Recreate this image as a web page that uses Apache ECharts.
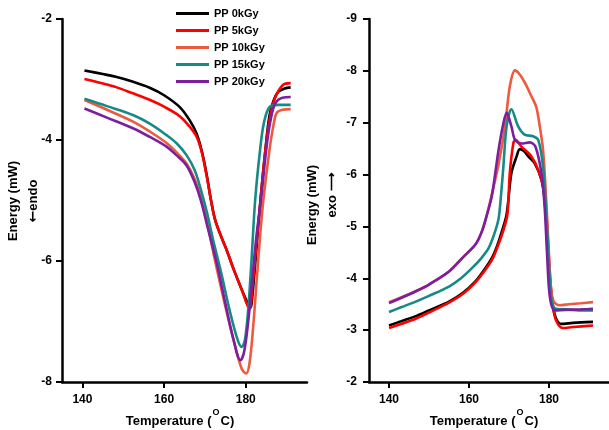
<!DOCTYPE html>
<html><head><meta charset="utf-8">
<script src="https://cdn.jsdelivr.net/npm/echarts@6/dist/echarts.min.js"></script>
<style>html,body{margin:0;padding:0;background:#fff}#c{width:609px;height:430px}</style>
</head><body><div id="c"></div>
<script>
// ---------- DATA ----------
const seriesNames = ['PP 0kGy','PP 5kGy','PP 10kGy','PP 15kGy','PP 20kGy'];
const xTicks = [140, 160, 180];

// Left panel (melting, endo)
const endoT_0 = [140.5,145,148.4,152,156.6,160,163.9,166.5,168,169.3,170.5,171.5,172.5,174,175.5,177,179,180.5,181.2,181.6,182.5,183.6,184.8,185.8,186.8,188,189.5,191];
const endoE_0 = [-2.85,-2.91,-2.96,-3.03,-3.14,-3.26,-3.46,-3.7,-3.9,-4.2,-4.6,-5.0,-5.32,-5.6,-5.85,-6.13,-6.47,-6.7,-6.77,-6.59,-5.9,-5.0,-4.17,-3.6,-3.35,-3.2,-3.15,-3.13];
const endoT_5 = [140.5,144,148.4,152,156.6,160,163.9,166.5,168,169.3,170.5,171.5,172.5,174,175.5,177,179,180.9,181.6,182.5,183.6,184.8,186,187.2,189.1,191];
const endoE_5 = [-2.99,-3.05,-3.13,-3.22,-3.34,-3.45,-3.61,-3.8,-3.95,-4.22,-4.62,-5.0,-5.32,-5.6,-5.85,-6.13,-6.47,-6.79,-6.45,-5.8,-5.0,-4.17,-3.6,-3.3,-3.09,-3.06];
const endoT_10 = [140.5,146,152.5,156.5,160.6,163,165.5,167.5,169,170.5,172.5,175,177,179,180.1,180.9,181.8,182.7,183.5,184.3,185.8,186.8,187.6,189,191];
const endoE_10 = [-3.34,-3.5,-3.7,-3.86,-4.05,-4.2,-4.39,-4.65,-4.95,-5.35,-6.0,-6.75,-7.3,-7.78,-7.86,-7.7,-7.1,-6.3,-5.6,-5.0,-4.17,-3.75,-3.55,-3.5,-3.49];
const endoT_15 = [140.5,146,152.5,156.5,160.6,163,165.5,167.5,169,170.5,172,174,176,178,179,179.8,180.6,181.4,182.3,183.5,184.5,185.9,188,191];
const endoE_15 = [-3.32,-3.44,-3.59,-3.73,-3.92,-4.05,-4.25,-4.5,-4.82,-5.2,-5.65,-6.2,-6.8,-7.3,-7.42,-7.3,-6.8,-6.0,-5.0,-4.17,-3.7,-3.45,-3.42,-3.42];
const endoT_20 = [140.5,146,152.5,156.5,160.6,163,165.5,167.5,169,170.5,173,175,177,178.7,179.6,180.6,181.6,182.6,183.7,185,186,187.2,189,191];
const endoE_20 = [-3.48,-3.63,-3.81,-3.95,-4.11,-4.25,-4.42,-4.7,-5.0,-5.4,-6.07,-6.7,-7.3,-7.64,-7.5,-7.0,-6.3,-5.6,-5.0,-4.17,-3.7,-3.4,-3.3,-3.29];

// Right panel (crystallization, exo)
const exoT_0 = [140,143,146.7,150,155,158.5,161.6,163.5,165.7,167,168.2,169.4,170.6,171.9,172.7,173.8,174.8,176.4,178.1,178.9,179.6,180.3,181,181.8,183,186,191];
const exoE_0 = [-3.09,-3.17,-3.27,-3.38,-3.55,-3.72,-3.94,-4.13,-4.39,-4.62,-4.9,-5.23,-6.03,-6.35,-6.49,-6.45,-6.35,-6.22,-5.9,-5.52,-4.7,-3.9,-3.45,-3.22,-3.12,-3.14,-3.16];
const exoT_5 = [140,143,146.7,150,155,158.5,161.6,163.5,165.7,167,168.4,169.6,170.2,171.1,171.6,173.1,175.6,177.3,178.9,179.6,180.3,181,181.8,183.4,186,191];
const exoE_5 = [-3.04,-3.12,-3.22,-3.34,-3.53,-3.7,-3.92,-4.1,-4.35,-4.58,-4.88,-5.23,-6.03,-6.61,-6.67,-6.54,-6.35,-6.09,-5.64,-4.9,-4.0,-3.45,-3.18,-3.04,-3.06,-3.09];
const exoT_10 = [140,143,146.7,150,155,158.3,161.6,163.2,164.5,165.8,167.3,169,170.2,171.5,172.5,174,175.6,176.8,177.7,178.5,179.3,179.9,180.5,181.2,182.6,185,188,191];
const exoE_10 = [-3.54,-3.63,-3.75,-3.88,-4.13,-4.39,-4.65,-4.9,-5.23,-5.65,-6.16,-6.93,-7.7,-8.01,-7.95,-7.77,-7.51,-7.31,-6.93,-6.48,-5.52,-4.6,-3.8,-3.55,-3.48,-3.5,-3.52,-3.54];
const exoT_15 = [140,143,146.7,150,155,158,160.8,163,164.9,166.3,167.4,168,168.6,169.4,170.6,172.3,173.9,176,177.3,178.5,179.3,179.9,180.6,181.5,184,188,191];
const exoE_15 = [-3.35,-3.44,-3.55,-3.66,-3.84,-4.0,-4.2,-4.38,-4.58,-4.85,-5.15,-5.6,-6.16,-6.93,-7.26,-6.93,-6.77,-6.74,-6.67,-6.16,-5.26,-4.4,-3.6,-3.42,-3.4,-3.38,-3.38];
const exoT_20 = [140,143,146.7,150,155,158.3,161.6,163.2,164.5,165.7,167.4,168.6,169.4,170.6,171.5,173.1,175.2,176.6,178.1,178.9,179.5,180.2,181.4,184,188,191];
const exoE_20 = [-3.52,-3.62,-3.75,-3.88,-4.13,-4.39,-4.65,-4.9,-5.23,-5.58,-6.48,-6.99,-7.19,-6.93,-6.67,-6.6,-6.62,-6.54,-6.03,-5.39,-4.5,-3.65,-3.38,-3.39,-3.4,-3.41];

const colors = ['#000000','#ff0000','#ee5a3e','#158a87','#7b1f9e'];

// ---------- BUILD ----------
const zip = (a, b) => a.map((v, i) => [v, b[i]]);
const endo = [[endoT_0,endoE_0],[endoT_5,endoE_5],[endoT_10,endoE_10],[endoT_15,endoE_15],[endoT_20,endoE_20]];
const exo = [[exoT_0,exoE_0],[exoT_5,exoE_5],[exoT_10,exoE_10],[exoT_15,exoE_15],[exoT_20,exoE_20]];

const FONT = 'Liberation Sans, Arial, sans-serif';
const lbl = {fontFamily: FONT, fontWeight: 'bold', fontSize: 12, color: '#000'};

function xAxisCfg(gi) {
  return {
    type: 'value', gridIndex: gi, min: 135, max: 195,
    axisLine: {show: true, onZero: false, lineStyle: {color: '#000', width: 2.5}},
    axisTick: {show: true, length: 6, lineStyle: {color: '#000', width: 2}, customValues: xTicks},
    axisLabel: Object.assign({margin: 12, customValues: xTicks}, lbl),
    splitLine: {show: false}
  };
}
function yAxisCfg(gi, min, max, interval, inverse, margin) {
  return {
    type: 'value', gridIndex: gi, min: min, max: max, interval: interval, inverse: inverse,
    axisLine: {show: true, onZero: false, lineStyle: {color: '#000', width: 2.5}},
    axisTick: {show: true, length: 6, lineStyle: {color: '#000', width: 2}},
    axisLabel: Object.assign({margin: margin}, lbl),
    splitLine: {show: false}
  };
}

const series = [];
endo.forEach((d, i) => series.push({
  name: seriesNames[i], type: 'line', xAxisIndex: 0, yAxisIndex: 0,
  data: zip(d[0], d[1]), showSymbol: false, smooth: 0.35,
  lineStyle: {color: colors[i], width: 2.6}, itemStyle: {color: colors[i]}
}));
exo.forEach((d, i) => series.push({
  name: seriesNames[i], type: 'line', xAxisIndex: 1, yAxisIndex: 1,
  data: zip(d[0], d[1]), showSymbol: false, smooth: 0.3,
  lineStyle: {color: colors[i], width: 2.6}, itemStyle: {color: colors[i]}
}));

const titleStyle = {fontFamily: FONT, fontWeight: 'bold', fontSize: 13, fill: '#000'};
function tempTitle(cx) {
  return {
    type: 'text', x: cx, y: 418,
    style: {
      text: '{a|Temperature (}{s|O}{a|C)}',
      align: 'center', verticalAlign: 'middle',
      rich: {
        a: {fontFamily: FONT, fontWeight: 'bold', fontSize: 13, fill: '#000', verticalAlign: 'bottom', lineHeight: 20},
        s: {fontFamily: FONT, fontWeight: 'bold', fontSize: 9, fill: '#000', verticalAlign: 'top', lineHeight: 20, padding: [0,1,8,1]}
      }
    }
  };
}

const chart = echarts.init(document.getElementById('c'), null, {renderer: 'canvas'});
chart.setOption({
  animation: false,
  backgroundColor: '#ffffff',
  color: colors,
  grid: [
    {left: 62, top: 19, width: 245, height: 363},
    {left: 369, top: 19, width: 242, height: 363}
  ],
  xAxis: [xAxisCfg(0), xAxisCfg(1)],
  yAxis: [yAxisCfg(0, -8, -2, 2, false, 10), yAxisCfg(1, -9, -2, 1, true, 12)],
  legend: {
    data: seriesNames, orient: 'vertical', left: 176, top: 7, padding: 0,
    icon: 'rect', itemWidth: 33, itemHeight: 3, itemGap: 4,
    textStyle: {fontFamily: FONT, fontWeight: 'bold', fontSize: 11, color: '#000', lineHeight: 13}
  },
  graphic: [
    {type: 'text', x: 13, y: 201, rotation: Math.PI / 2,
      style: Object.assign({text: 'Energy (mW)', align: 'center', verticalAlign: 'middle'}, titleStyle)},
    {type: 'text', x: 33, y: 201, rotation: Math.PI / 2,
      style: {text: '{ar|\u2190}{t|endo}', align: 'center', verticalAlign: 'middle',
        rich: {ar: {fontFamily: 'DejaVu Sans', fontWeight: 'bold', fontSize: 14, fill: '#000'},
               t: {fontFamily: FONT, fontWeight: 'bold', fontSize: 13, fill: '#000'}}}},
    {type: 'text', x: 312, y: 205, rotation: Math.PI / 2,
      style: Object.assign({text: 'Energy (mW)', align: 'center', verticalAlign: 'middle'}, titleStyle)},
    {type: 'text', x: 332, y: 195, rotation: Math.PI / 2,
      style: Object.assign({text: 'exo \u27F6', align: 'center', verticalAlign: 'middle'}, titleStyle)},
    tempTitle(180),
    tempTitle(484)
  ],
  series: series
});
</script>
</body></html>
